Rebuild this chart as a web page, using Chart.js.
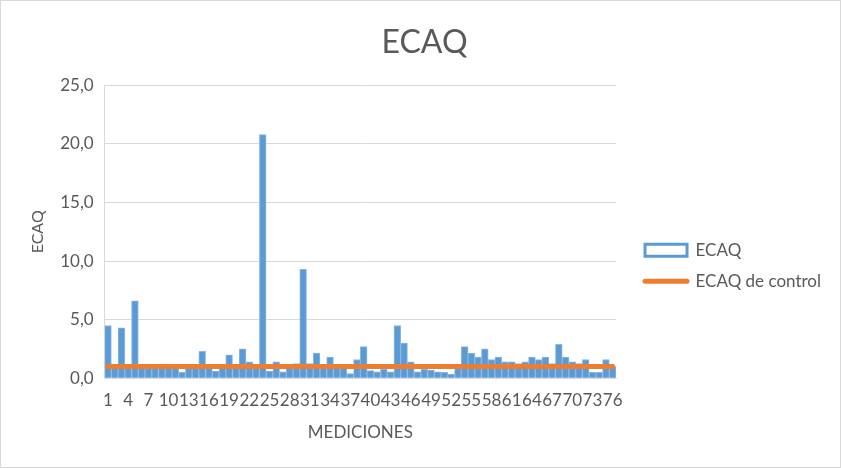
<!DOCTYPE html>
<html>
<head>
<meta charset="utf-8">
<script src="https://cdn.jsdelivr.net/npm/chart.js@4"></script>
<style>
  body { margin: 0; background: #fff; }
  #wrap { width: 841px; height: 468px; box-sizing: border-box; border: 1px solid #d9d9d9; position: relative; }
</style>
</head>
<body>
<div id="wrap"><canvas id="graficoECAQ"></canvas></div>
<script>
// Datos
const mediciones = ['1','2','3','4','5','6','7','8','9','10','11','12','13','14','15','16','17','18','19','20',
  '21','22','23','24','25','26','27','28','29','30','31','32','33','34','35','36','37','38','39','40',
  '41','42','43','44','45','46','47','48','49','50','51','52','53','54','55','56','57','58','59','60',
  '61','62','63','64','65','66','67','68','69','70','71','72','73','74','75','76'];

const ecaq = [4.5, 1.2, 4.3, 1.2, 6.6, 0.9, 0.9, 0.9, 1.2, 1.2,
  0.9, 0.5, 0.9, 0.9, 2.3, 0.9, 0.6, 0.9, 2.0, 0.9,
  2.5, 1.4, 0.9, 20.8, 0.6, 1.4, 0.55, 0.9, 1.25, 9.3,
  1.25, 2.15, 0.9, 1.8, 0.9, 0.9, 0.4, 1.6, 2.7, 0.65,
  0.55, 0.75, 0.55, 4.5, 3.0, 1.4, 0.55, 0.75, 0.7, 0.55,
  0.5, 0.35, 0.9, 2.7, 2.15, 1.8, 2.5, 1.6, 1.8, 1.4,
  1.4, 1.25, 1.4, 1.8, 1.6, 1.8, 1.25, 2.9, 1.8, 1.4,
  1.25, 1.6, 0.5, 0.5, 1.6, 1.0];

const ecaqControl = [1,1,1,1,1,1,1,1,1,1, 1,1,1,1,1,1,1,1,1,1,
  1,1,1,1,1,1,1,1,1,1, 1,1,1,1,1,1,1,1,1,1,
  1,1,1,1,1,1,1,1,1,1, 1,1,1,1,1,1,1,1,1,1,
  1,1,1,1,1,1,1,1,1,1, 1,1,1,1,1,1];

const yTicks = [0, 5, 10, 15, 20, 25];

const gris = '#595959';
const azul = '#5B9BD5';
const naranja = '#ED7D31';
Chart.defaults.font.family = 'Lato, "Open Sans", sans-serif';
Chart.defaults.color = gris;

// deja un hueco entre el área del gráfico y la leyenda
const HUECO = 15;
const huecoLeyenda = {
  id: 'huecoLeyenda',
  beforeLayout(chart) {
    const leg = chart.legend;
    if (leg && !leg._conHueco) {
      const fit = leg.fit.bind(leg);
      leg.fit = function () { fit(); this.width += HUECO; };
      leg._conHueco = true;
    }
  },
  afterLayout(chart) {
    if (chart.legend) chart.legend.left += HUECO;
  }
};

const ctx = document.getElementById('graficoECAQ').getContext('2d');

const grafico = new Chart(ctx, {
  data: {
    labels: mediciones,
    datasets: [{
      type: 'bar',
      label: 'ECAQ',
      data: ecaq,
      backgroundColor: azul,
      borderColor: '#8DB6E2',
      borderWidth: 1,
      barPercentage: 1,
      categoryPercentage: 1,
      order: 2
    }, {
      type: 'line',
      label: 'ECAQ de control',
      data: ecaqControl,
      borderColor: naranja,
      borderWidth: 5,
      borderCapStyle: 'round',
      pointRadius: 0,
      tension: 0,
      order: 1
    }]
  },
  plugins: [huecoLeyenda],
  options: {
    responsive: true,
    maintainAspectRatio: false,
    animation: false,
    layout: { padding: { left: 17, right: 9, top: 0, bottom: 21 } },
    plugins: {
      title: {
        display: true,
        text: 'ECAQ',
        color: gris,
        font: { size: 32, weight: 'normal' },
        padding: { top: 22, bottom: 24 }
      },
      tooltip: { enabled: false },
      legend: {
        position: 'right',
        maxWidth: 300,
        title: { display: true, text: '', padding: { top: 70, bottom: 0 } },
        labels: {
          usePointStyle: true,
          pointStyleWidth: 42,
          boxHeight: 12,
          padding: 14,
          color: gris,
          font: { size: 17 },
          generateLabels: () => [
            { text: 'ECAQ', pointStyle: 'rect', fillStyle: '#fff', strokeStyle: azul, lineWidth: 3, fontColor: gris, datasetIndex: 0 },
            { text: 'ECAQ de control', pointStyle: 'line', fillStyle: naranja, strokeStyle: naranja, lineWidth: 5, lineCap: 'round', fontColor: gris, datasetIndex: 1 }
          ]
        }
      }
    },
    scales: {
      x: {
        grid: { display: false, drawTicks: false },
        border: { color: '#d9d9d9', width: 1 },
        ticks: {
          autoSkip: false,
          maxRotation: 0,
          minRotation: 0,
          padding: 12,
          color: gris,
          font: { size: 17 },
          callback: function (value, index) {
            return index % 3 === 0 ? this.getLabelForValue(value) : '';
          }
        },
        title: { display: true, text: 'MEDICIONES', color: gris, font: { size: 17 }, padding: { top: 0, bottom: 3 } }
      },
      y: {
        min: 0,
        max: 25,
        afterBuildTicks: axis => { axis.ticks = yTicks.map(v => ({ value: v })); },
        grid: { color: '#d9d9d9', drawTicks: false },
        border: { color: '#d9d9d9', width: 1 },
        ticks: {
          padding: 11,
          color: gris,
          font: { size: 17 },
          callback: v => v.toFixed(1).replace('.', ',')
        },
        title: { display: true, text: 'ECAQ', color: gris, font: { size: 16 }, padding: { top: 10, bottom: 2 } }
      }
    }
  }
});
</script>
</body>
</html>
